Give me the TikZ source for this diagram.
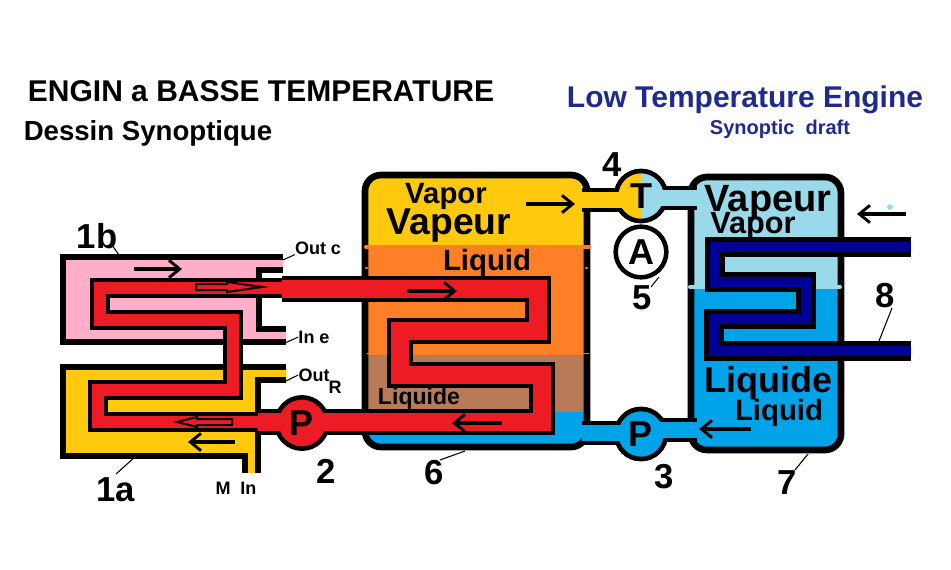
\documentclass[tikz,border=0pt]{standalone}
\usepackage{fontspec}
\setmainfont{Liberation Sans}
\usetikzlibrary{arrows.meta}
\definecolor{tubered}{HTML}{ED1C24}
\definecolor{hotyellow}{HTML}{FFC90E}
\definecolor{midorange}{HTML}{FF7F27}
\definecolor{liqbrown}{HTML}{B97A57}
\definecolor{liqblue}{HTML}{00A2E8}
\definecolor{vapblue}{HTML}{99D9EA}
\definecolor{coldblue}{HTML}{000099}
\definecolor{softpink}{HTML}{FFAEC9}
\definecolor{titlenavy}{HTML}{1F2A8C}
\newcommand{\fsz}[1]{\fontsize{#1}{#1}\selectfont}
\tikzset{
  wall/.style={draw=black, line width=3.8pt, line join=miter},
  vesselwall/.style={draw=black, line width=5pt, rounded corners=12pt},
  tubethin/.style={line width=3pt, draw=black, double=tubered, double distance=9.5pt},
  tubewide/.style={line width=3.2pt, draw=black, double=tubered, double distance=13.2pt},
  tubecold/.style={line width=3.4pt, draw=black, double=coldblue, double distance=8.2pt},
  pipe/.style={line width=3pt, draw=black, double distance=12pt},
  disc/.style={circle, draw=black, line width=3.4pt, minimum size=37.5pt, inner sep=0pt},
  flow/.style={draw=black, line width=2.6pt, -{Straight Barb[length=8pt, width=13pt, line width=2.2pt]}},
  hollow/.style={draw=black, line width=1.5pt, fill=tubered},
  lead/.style={draw=black, line width=0.8pt},
  bold/.style={font=\bfseries\fsz{#1}, inner sep=0pt, text=black},
  navy/.style={font=\bfseries\fsz{#1}, inner sep=0pt, text=titlenavy}
}
\begin{document}
\begin{tikzpicture}[x=0.75pt, y=-0.75pt]
  \useasboundingbox (0,0) rectangle (951,569);
  % titles
  \node[bold=22.5] (titlefr) at (261,91) {ENGIN a BASSE TEMPERATURE};
  \node[bold=20.7] (subfr) at (148,133) {Dessin Synoptique};
  \node[navy=22.5] (titleen) at (745,100) {Low Temperature Engine};
  \node[navy=15] (suben) at (780,129) {Synoptic\ \ draft};

  % exchanger 1b
  \fill[softpink] (63,257) -- (283,257) -- (283,270) -- (259,270) -- (259,329)
                  -- (286,329) -- (286,342) -- (63,342) -- cycle;
  \draw[wall] (283,257) -- (63,257) -- (63,342) -- (286,342);
  \draw[wall] (283,270) -- (259,270) -- (259,329) -- (286,329);
  % exchanger 1a
  \fill[hotyellow] (63,367) -- (286,367) -- (286,380) -- (258,380) -- (258,473)
                   -- (245,473) -- (245,456) -- (63,456) -- cycle;
  \draw[wall] (286,367) -- (63,367) -- (63,456) -- (245,456) -- (245,473);
  \draw[wall] (286,380) -- (258,380) -- (258,473);

  % vessel 6
  \begin{scope}
    \clip[rounded corners=12pt] (365,175) rectangle (587,447);
    \fill[hotyellow] (360,170) rectangle (592,248);
    \fill[midorange] (360,248) rectangle (592,355);
    \fill[liqbrown] (360,355) rectangle (592,412);
    \fill[liqblue] (360,412) rectangle (592,450);
  \end{scope}
  \draw[vesselwall] (365,175) rectangle (587,447);
  \draw[midorange, line width=3pt, line cap=round] (366,247) -- (589,247);
  \draw[midorange, line width=2pt, line cap=round] (366,268) -- (367,268);
  \draw[midorange, line width=2pt, line cap=round] (586,268) -- (587,268);
  \draw[midorange, line width=0.5pt] (367,353) -- (589,353);

  % vessel 7
  \begin{scope}
    \clip[rounded corners=12pt] (691,177) rectangle (841,450);
    \fill[vapblue] (685,170) rectangle (845,287);
    \fill[liqblue] (685,287) rectangle (845,455);
  \end{scope}
  \draw[vesselwall] (691,177) rectangle (841,450);
  \draw[vapblue, line width=3pt, line cap=round] (690,287) -- (840,287);

  % red tube
  \draw[tubewide] (258,422) -- (542,422) -- (542,375) -- (400,375) -- (400,331)
                  -- (538,331) -- (538,289) -- (282,289);
  \draw[tubethin] (282,288) -- (100,288) -- (100,320) -- (233,320) -- (233,390)
                  -- (98,390) -- (98,422) -- (258,422);
  % cold tube
  \draw[tubecold] (911,247) -- (715,247) -- (715,282) -- (806,282) -- (806,319)
                  -- (714,319) -- (714,351) -- (911,351);

  % pipes, then discs, then the inside of the pipes again
  \coordinate (evapout) at (582,200);
  \coordinate (evapin) at (582,433);
  \coordinate (condin) at (697,198);
  \coordinate (condout) at (697,430);
  \node[disc] (turbine) at (641,196) {};
  \node[disc] (pumpb) at (641,434) {};
  \draw[pipe, double=hotyellow] (evapout) -- (evapout -| turbine);
  \draw[pipe, double=vapblue] (condin -| turbine) -- (condin);
  \draw[pipe, double=liqblue] (evapin) -- (evapin -| pumpb);
  \draw[pipe, double=liqblue] (condout -| pumpb) -- (condout);
  \node[disc, fill=vapblue, path picture={\fill[hotyellow] (path picture bounding box.north west)
        rectangle (path picture bounding box.south);}] (turbine) at (641,196) {};
  \node[disc, fill=liqblue] (pumpb) at (641,434) {};
  \node[disc, fill=white, minimum size=38pt] (ampere) at (641,252) {};
  \node[disc, fill=tubered, minimum size=38.5pt] (pumpr) at (302,423) {};
  \draw[hotyellow, line width=12pt] (evapout) -- (evapout -| turbine);
  \draw[vapblue, line width=12pt] (condin -| turbine) -- (condin);
  \draw[liqblue, line width=12pt] (evapin) -- (evapin -| pumpb);
  \draw[liqblue, line width=12pt] (condout -| pumpb) -- (condout);
  \draw[tubered, line width=13.2pt] (259,422) -- (345,422);

  % letters on the discs
  \node[bold=27] (turbinetxt) at (641,196) {T};
  \node[bold=27] (amperetxt) at (641,252) {A};
  \node[bold=27] (pumpbtxt) at (641,434) {P};
  \node[bold=27] (pumprtxt) at (302,423) {P};

  % flow arrows
  \coordinate (fa) at (134,269); \coordinate (fb) at (182,269);
  \draw[flow] (fa) -- (fb);
  \coordinate (fc) at (235,442); \coordinate (fd) at (188,442);
  \draw[flow] (fc) -- (fd);
  \coordinate (fe) at (407,291); \coordinate (ff) at (457,291);
  \draw[flow] (fe) -- (ff);
  \coordinate (fg) at (502,423); \coordinate (fh) at (452,423);
  \draw[flow] (fg) -- (fh);
  \coordinate (fi) at (526,204); \coordinate (fj) at (575,204);
  \draw[flow] (fi) -- (fj);
  \coordinate (fk) at (751,429); \coordinate (fl) at (699,429);
  \draw[flow] (fk) -- (fl);
  \coordinate (fm) at (906,214); \coordinate (fn) at (857,214);
  \draw[flow] (fm) -- (fn);
  \fill[vapblue] (890,207) circle (2.2pt);
  \draw[hollow] (196,284) -- (227,284) -- (227,282) -- (262,287) -- (227,292) -- (227,290) -- (196,290) -- cycle;
  \draw[hollow] (232,419) -- (197,419) -- (197,417) -- (177,422) -- (197,427) -- (197,425) -- (232,425) -- cycle;

  % texts in vessels
  \node[bold=22] (vaporl) at (446,196) {Vapor};
  \node[bold=28] (vapeurl) at (449,226) {Vapeur};
  \node[bold=22] (liquidl) at (487,263) {Liquid};
  \node[bold=17.3] (liquidel) at (419,399) {Liquide};
  \node[bold=28.5] (vapeurr) at (768,202) {Vapeur};
  \node[bold=23] (vaporr) at (753,226) {Vapor};
  \node[bold=27] (liquider) at (768,383) {Liquide};
  \node[bold=22] (liquidr) at (779,413) {Liquid};

  % numbers
  \node[bold=26] (n1b) at (97,236) {1b};
  \node[bold=26] (n1a) at (116,490) {1a};
  \node[bold=26] (n2) at (326,471) {2};
  \node[bold=26] (n6) at (434,473) {6};
  \node[bold=26] (n3) at (664,477) {3};
  \node[bold=26] (n7) at (787,483) {7};
  \node[bold=26] (n8) at (885,296) {8};
  \node[bold=26] (n4) at (612,165) {4};
  \node[bold=26] (n5) at (642,298) {5};

  % port labels
  \node[bold=13.5] (outc) at (318,248) {Out c};
  \node[bold=13.5] (ine) at (314,337) {In e};
  \node[bold=13.5] (outr) at (314,375) {Out};
  \node[bold=13.5] (subr) at (335,387) {R};
  \node[bold=13.5] (min) at (236,488) {M\ \ In};

  % leaders
  \coordinate (l1b) at (119,255); \draw[lead] (n1b) ++(15,9) -- (l1b);
  \coordinate (lout) at (283,260); \draw[lead] (outc.south west) -- (lout);
  \coordinate (lin) at (285,343); \draw[lead] (ine.west) -- (lin);
  \coordinate (lr) at (286,381); \draw[lead] (outr.west) -- (lr);
  \coordinate (l1a) at (136,456); \draw[lead] (n1a) ++(0,-16) -- (l1a);
  \coordinate (l6) at (465,451); \draw[lead] (n6) ++(6,-13) -- (l6);
  \coordinate (l5) at (659,277); \draw[lead] (n5) ++(9,-11) -- (l5);
  \coordinate (l7) at (808,454); \draw[lead] (n7) ++(8,-13) -- (l7);
  \coordinate (l8) at (879,341); \draw[lead] (n8) ++(7,12) -- (l8);
\end{tikzpicture}
\end{document}
